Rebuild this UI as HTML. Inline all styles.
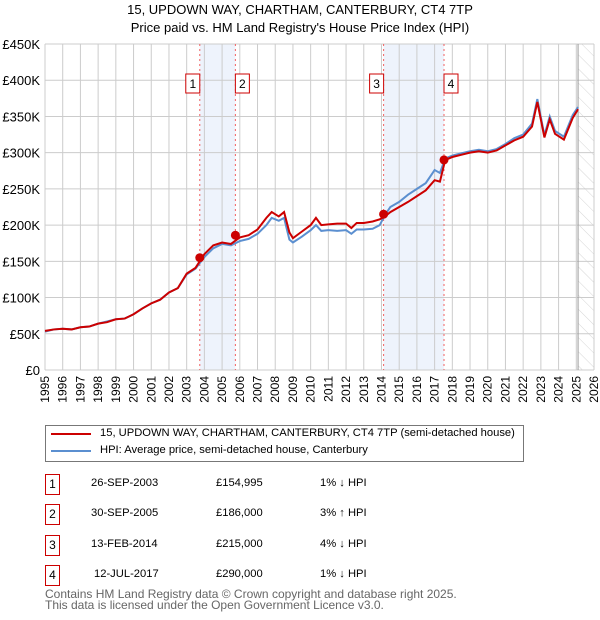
<!DOCTYPE html>
<html><head><meta charset="utf-8"><style>
body{margin:0;background:#fff;font-family:"Liberation Sans","DejaVu Sans",sans-serif;}
#wrap{position:relative;width:600px;height:620px;overflow:hidden;}
.t{position:absolute;font-size:11.2px;color:#000;white-space:nowrap;}
.box{position:absolute;width:13px;height:19px;border:1px solid #c00;font-size:12px;text-align:center;line-height:19px;}
</style></head><body><div id="wrap">
<div class="t" style="left:0;width:600px;text-align:center;top:1px;font-size:13px;line-height:18px">15, UPDOWN WAY, CHARTHAM, CANTERBURY, CT4 7TP<br>Price paid vs. HM Land Registry's House Price Index (HPI)</div>
<svg id="chart" width="600" height="425" style="position:absolute;left:0;top:0"></svg>
<div style="position:absolute;left:45px;top:425px;width:477px;height:35px;border:1px solid #777"></div>
<div style="position:absolute;left:51px;top:433px;width:40px;height:2px;background:#c00"></div>
<div class="t" style="left:100px;top:427px">15, UPDOWN WAY, CHARTHAM, CANTERBURY, CT4 7TP (semi-detached house)</div>
<div style="position:absolute;left:51px;top:450px;width:40px;height:2px;background:#5b8fd0"></div>
<div class="t" style="left:100px;top:444px">HPI: Average price, semi-detached house, Canterbury</div>
<div id="rows"></div>
<div class="t" style="left:45px;top:589px;color:#666;line-height:11px;font-size:12px">Contains HM Land Registry data © Crown copyright and database right 2025.<br>This data is licensed under the Open Government Licence v3.0.</div>
</div>
<script>
const hpiYears=[1995,1995.5,1996,1996.5,1997,1997.5,1998,1998.5,1999,1999.5,2000,2000.5,2001,2001.5,2002,2002.5,2003,2003.5,2004,2004.5,2005,2005.5,2006,2006.5,2007,2007.5,2007.8,2008.2,2008.5,2008.8,2009,2009.5,2010,2010.3,2010.6,2011,2011.5,2012,2012.3,2012.6,2013,2013.5,2013.9,2014.2,2014.5,2015,2015.5,2016,2016.5,2017,2017.3,2017.6,2018,2018.5,2019,2019.5,2020,2020.5,2021,2021.5,2022,2022.5,2022.8,2023.2,2023.5,2023.8,2024.3,2024.8,2025.1];
const hpiValues=[53,56,57,56,59,60,64,67,70,71,77,85,92,97,107,113,132,140,156,168,174,172,178,181,188,200,210,206,210,180,176,184,193,200,192,193,192,193,188,194,194,195,200,214,225,232,242,250,258,276,272,292,296,299,302,304,302,305,312,320,325,340,374,324,350,330,322,352,363];
const priceYears=hpiYears;
const priceValues=[54,56,57,56,59,60,64,66,70,71,77,85,92,97,107,113,133,141,160,172,176,174,183,186,194,210,218,212,218,190,182,191,200,210,200,201,202,202,196,203,203,205,208,212,218,225,232,240,248,262,260,290,294,297,300,302,300,303,310,317,322,336,370,321,346,326,318,348,360];
const saleYears=[2003.74,2005.75,2014.12,2017.53];
const salePrices=[154995,186000,215000,290000];
const saleDates=["26-SEP-2003","30-SEP-2005","13-FEB-2014","12-JUL-2017"];
const saleLabels=["£154,995","£186,000","£215,000","£290,000"];
const saleHpi=["1% ↓ HPI","3% ↑ HPI","4% ↓ HPI","1% ↓ HPI"];
const yTicks=[0,50,100,150,200,250,300,350,400,450];
const yTickLabels=["£0","£50K","£100K","£150K","£200K","£250K","£300K","£350K","£400K","£450K"];
const xTicks=[];for(let y=1995;y<=2026;y++)xTicks.push(y);
const X0=45,X1=594,Y0=370,Y1=44;
const xs=v=>X0+(v-1995)/(2026-1995)*(X1-X0);
const ys=v=>Y0-v/450*(Y0-Y1);
const svg=document.getElementById('chart');const NS='http://www.w3.org/2000/svg';
function mk(t,a,p){const e=document.createElementNS(NS,t);for(const k in a)e.setAttribute(k,a[k]);(p||svg).appendChild(e);return e;}
const defs=mk('defs',{});
const pat=mk('pattern',{id:'hatch',width:10,height:10,patternUnits:'userSpaceOnUse',patternTransform:'rotate(-45)'},defs);
mk('line',{x1:0,y1:0,x2:0,y2:10,stroke:'#ccc','stroke-width':0.8},pat);
let r=mk('rect',{x:xs(2003.74),y:Y1,width:xs(2005.75)-xs(2003.74),height:Y0-Y1,fill:'#eef3fc'});

r=mk('rect',{x:xs(2014.12),y:Y1,width:xs(2017.53)-xs(2014.12),height:Y0-Y1,fill:'#eef3fc'});

r=mk('rect',{x:xs(2025.1),y:Y1,width:X1-xs(2025.1),height:Y0-Y1,fill:'url(#hatch)'});

yTicks.forEach((v,i)=>{const l=mk('line',{x1:X0,x2:X1,y1:ys(v),y2:ys(v),stroke:'#ccc'});

const t=mk('text',{x:40,y:ys(v)+5,'text-anchor':'end','font-size':13,fill:'#000'});t.textContent=yTickLabels[i];
});
xTicks.forEach(v=>{const l=mk('line',{x1:xs(v),x2:xs(v),y1:Y1,y2:Y0,stroke:'#ccc'});

const t=mk('text',{x:0,y:0,'text-anchor':'end','font-size':12,fill:'#000',transform:`translate(${xs(v)+4},376) rotate(-90)`});t.textContent=v;
});
const vl=mk('line',{x1:xs(2025.1),x2:xs(2025.1),y1:Y1,y2:Y0,stroke:'#999','stroke-width':1});

saleYears.forEach((v,i)=>{const l=mk('line',{x1:xs(v),x2:xs(v),y1:Y1,y2:Y0,stroke:'#f06060','stroke-dasharray':'2,3'});
});
const hp=mk('polyline',{points:hpiYears.map((y,i)=>xs(y)+','+ys(hpiValues[i])).join(' '),fill:'none',stroke:'#5b8fd0','stroke-width':2});

const pp=mk('polyline',{points:priceYears.map((y,i)=>xs(y)+','+ys(priceValues[i])).join(' '),fill:'none',stroke:'#c00','stroke-width':2});

saleYears.forEach((v,i)=>{const c=mk('circle',{cx:xs(v),cy:ys(salePrices[i]/1000),r:4.5,fill:'#c00'});

const bx=xs(v)-(i===0||i===2?7:-7)-7;
const g=mk('rect',{x:bx,y:74,width:14,height:19,fill:'#fff',stroke:'#c00'});

const t=mk('text',{x:bx+7,y:88,'text-anchor':'middle','font-size':12});t.textContent=i+1;
});
const rows=document.getElementById('rows');const tops=[474,504,535,565];
saleDates.forEach((d,i)=>{const tp=tops[i];
rows.insertAdjacentHTML('beforeend',`<div class="box" style="left:45px;top:${tp}px">${i+1}</div><div class="t" style="left:${i===3?94:91}px;top:${tp+3}px">${d}</div><div class="t" style="left:216px;top:${tp+3}px">${saleLabels[i]}</div><div class="t" style="left:320px;top:${tp+3}px">${saleHpi[i]}</div>`);});
</script></body></html>
